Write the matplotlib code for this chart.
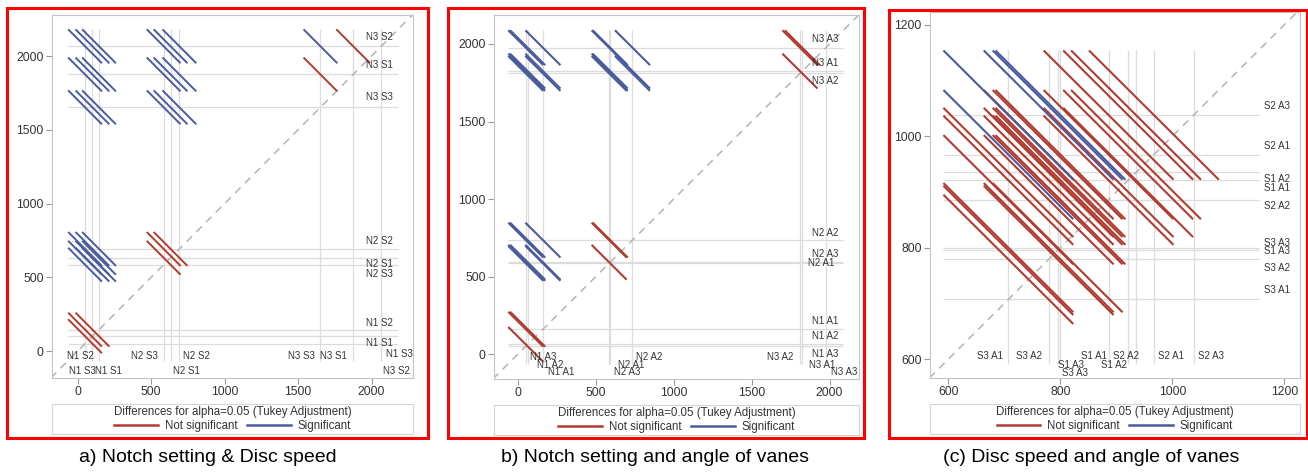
import matplotlib
matplotlib.use("Agg")
import matplotlib.pyplot as plt
from matplotlib.lines import Line2D
from matplotlib.patches import Rectangle
from itertools import combinations

plt.rcParams['font.family'] = ['Liberation Sans', 'DejaVu Sans']

# a) notch setting x disc speed : LS-means and CI half width of a difference
a_levels = ["N1 S1", "N1 S2", "N1 S3", "N2 S1", "N2 S2", "N2 S3", "N3 S1", "N3 S2", "N3 S3"]
a_means = [100, 145, 50, 632, 692, 585, 1875, 2066, 1652]
a_halfwidth = 230

# b) notch setting x angle of vanes
b_levels = ["N1 A1", "N1 A2", "N1 A3", "N2 A1", "N2 A2", "N2 A3", "N3 A1", "N3 A2", "N3 A3"]
b_means = [160, 62, 50, 585, 735, 592, 1825, 1810, 1976]
b_halfwidth = 225

# c) disc speed x angle of vanes
c_levels = ["S1 A1", "S1 A2", "S1 A3", "S2 A1", "S2 A2", "S2 A3", "S3 A1", "S3 A2", "S3 A3"]
c_means = [921, 935, 795, 967, 886, 1038, 707, 779, 800]
c_halfwidth = 232

ab_ticks = [0, 500, 1000, 1500, 2000]
c_ticks = [600, 800, 1000, 1200]
captions = ["a) Notch setting & Disc speed",
            "b) Notch setting and angle of vanes",
            "(c) Disc speed and angle of vanes"]
legend_title = "Differences for alpha=0.05 (Tukey Adjustment)"
legend_labels = ["Not significant", "Significant"]

# label placement (SAS style staggering): right labels (axes x frac, dy px), bottom labels (dx px, px above axis)
a_right = {"N3 S2": (0.871, 9), "N3 S1": (0.871, 9), "N3 S3": (0.871, 10), "N2 S2": (0.871, 8),
           "N2 S1": (0.871, -6), "N2 S3": (0.871, -9), "N1 S2": (0.871, 7), "N1 S1": (0.871, -7),
           "N1 S3": (0.925, -10)}
a_bottom = {"N1 S2": (-19, 22), "N1 S3": (-3, 7), "N1 S1": (16, 7), "N2 S3": (-19, 22), "N2 S1": (16, 7),
            "N2 S2": (17, 22), "N3 S3": (-19, 22), "N3 S1": (-20, 22), "N3 S2": (15, 7)}
b_right = {"N3 A3": (0.872, 9), "N3 A1": (0.872, 8), "N3 A2": (0.872, -8), "N2 A2": (0.872, 7),
           "N2 A3": (0.872, 8), "N2 A1": (0.860, 0), "N1 A1": (0.872, 8), "N1 A2": (0.872, 8),
           "N1 A3": (0.872, -8)}
b_bottom = {"N1 A3": (17, 22), "N1 A2": (23, 14.5), "N1 A1": (18, 7), "N2 A2": (17, 22), "N2 A1": (22, 14.5),
            "N2 A3": (17, 7), "N3 A2": (-20, 22), "N3 A1": (20, 14.5), "N3 A3": (18, 7)}
c_right = {"S2 A3": (0.9025, 9), "S2 A1": (0.9025, 9), "S1 A2": (0.9025, -7), "S1 A1": (0.9025, -7.5),
           "S2 A2": (0.9025, -6.5), "S3 A3": (0.9025, 5), "S1 A3": (0.9025, -0.5), "S3 A2": (0.9025, -8.5),
           "S3 A1": (0.9025, 9)}
c_bottom = {"S3 A1": (-18, 22), "S3 A2": (-20, 22), "S1 A3": (13, 13.5), "S3 A3": (15, 5.5), "S1 A1": (-34, 22),
            "S2 A2": (17, 22), "S1 A2": (-22, 13.5), "S2 A1": (17, 22), "S2 A3": (17, 22)}

RED = '#B03C32'
BLUE = '#4B5C9E'
GRID = '#dcdcdc'
TXT = '#333333'

W, H = 1308, 476
fig = plt.figure(figsize=(W / 100, H / 100), dpi=100)


def fx(px):
    return px / W


def fy(py):
    return 1 - py / H


panels = [
    dict(levels=a_levels, means=a_means, hw=a_halfwidth, box=(52, 15, 413, 378),
         xlim=(-175, 2282), ylim=(-183, 2278), ticks=ab_ticks, right=a_right, bottom=a_bottom,
         frame=(7, 8, 428, 438), cap_x=208, lw=1.4),
    dict(levels=b_levels, means=b_means, hw=b_halfwidth, box=(494, 15, 859, 379),
         xlim=(-154, 2189), ylim=(-161, 2187), ticks=ab_ticks, right=b_right, bottom=b_bottom,
         frame=(448, 8, 864, 438), cap_x=655, lw=1.5),
    dict(levels=c_levels, means=c_means, hw=c_halfwidth, box=(930, 12, 1300, 378),
         xlim=(567, 1228), ylim=(566, 1223), ticks=c_ticks, right=c_right, bottom=c_bottom,
         frame=(889, 10, 1307, 438), cap_x=1091, lw=1.5),
]

handles = [Line2D([], [], color=RED, lw=1.8), Line2D([], [], color=BLUE, lw=1.8)]

for p, caption in zip(panels, captions):
    l, t, r, b = p["box"]
    ax = fig.add_axes([fx(l), fy(b), fx(r - l), (b - t) / H])
    means = p["means"]
    hw = p["hw"]

    # reference lines at the means
    lo, hi = min(means) - hw / 2, max(means) + hw / 2
    ax.vlines(means, lo, hi, color=GRID, lw=0.9, zorder=1)
    ax.hlines(means, lo, hi, color=GRID, lw=0.9, zorder=1)

    # diagonal
    d = [min(p["xlim"][0], p["ylim"][0]), max(p["xlim"][1], p["ylim"][1])]
    ax.plot(d, d, color='#b4b4b4', lw=1.1, dashes=(5, 4), zorder=2)

    # diffogram segments
    for i, j in combinations(range(len(means)), 2):
        m1, m2 = sorted((means[i], means[j]))
        sig = (m2 - m1) > hw
        ax.plot([m1 - hw / 2, m1 + hw / 2], [m2 + hw / 2, m2 - hw / 2],
                color=BLUE if sig else RED, lw=p["lw"], solid_capstyle='butt', zorder=3)

    for name, m in zip(p["levels"], means):
        xf, dy = p["right"][name]
        ax.annotate(name, xy=(xf, m), xycoords=('axes fraction', 'data'), xytext=(0, dy),
                    textcoords='offset pixels', ha='left', va='center', fontsize=7.0, color=TXT, zorder=5)
        dx, row = p["bottom"][name]
        ax.annotate(name, xy=(m, 0), xycoords=('data', 'axes fraction'), xytext=(dx, row),
                    textcoords='offset pixels', ha='center', va='center', fontsize=7.0, color=TXT, zorder=5)

    ax.set_xlim(p["xlim"])
    ax.set_ylim(p["ylim"])
    ax.set_xticks(p["ticks"])
    ax.set_yticks(p["ticks"])
    for s in ax.spines.values():
        s.set_color('#c4c4c4')
        s.set_linewidth(0.8)
    ax.tick_params(length=4, width=0.8, color='#9a9a9a', labelsize=8.8, labelcolor=TXT, pad=2)

    # legend box under the plot
    bt, bb = b + 26, b + 56
    fig.add_artist(Rectangle((fx(l), fy(bb)), fx(r - l), (bb - bt) / H, transform=fig.transFigure,
                             fill=False, ec='#d4d4d4', lw=0.8))
    leg = fig.legend(handles, legend_labels, loc='center', bbox_to_anchor=(fx((l + r) / 2), fy((bt + bb) / 2)),
                     ncol=2, frameon=False, title=legend_title, fontsize=8.3, title_fontsize=8.3,
                     handlelength=3.8, handletextpad=0.6, columnspacing=0.8, borderpad=0,
                     labelspacing=0.1, labelcolor=TXT)
    leg.get_title().set_color(TXT)

    # red frame and caption
    fl, ft, fr, fb = p["frame"]
    fig.add_artist(Rectangle((fx(fl), fy(fb)), fx(fr - fl), (fb - ft) / H, transform=fig.transFigure,
                             fill=False, ec='red', lw=2.2))
    fig.text(fx(p["cap_x"]), fy(458), caption, ha='center', va='center', fontsize=14)

fig.savefig("out.png", dpi=100)
